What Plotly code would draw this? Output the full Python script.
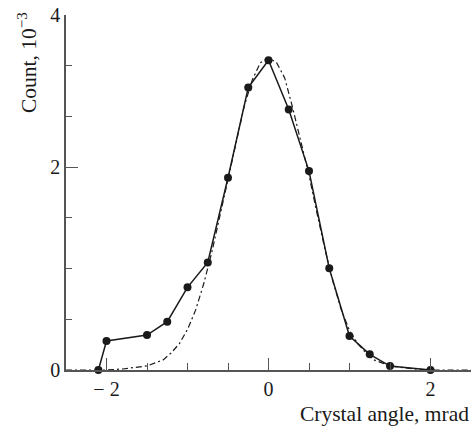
import plotly.graph_objects as go

# Measured data (solid line with markers), in units of the lower axis labels (0, 2)
angle = [-2.10, -2.0, -1.5, -1.25, -1.0, -0.75, -0.5, -0.25, 0.0, 0.25, 0.5, 0.75, 1.0, 1.25, 1.5, 2.0]
count = [0.0, 0.286, 0.345, 0.476, 0.815, 1.061, 1.895, 2.785, 3.054, 2.568, 1.961, 1.002, 0.335, 0.155, 0.039, 0.0]

# Fit curve (dash-dot)
fit_angle = [-2.5, -2.0, -1.8, -1.6, -1.5, -1.4, -1.3, -1.2, -1.1, -1.0, -0.9, -0.8, -0.7, -0.6, -0.5, -0.4, -0.3, -0.2, -0.1, 0.0, 0.1, 0.2, 0.3, 0.4, 0.5, 0.6, 0.7, 0.8, 0.9, 1.0, 1.1, 1.2, 1.3, 1.4, 1.5, 1.6, 1.8, 2.0, 2.5]
fit_count = [0.0, 0.0, 0.01, 0.03, 0.04, 0.07, 0.10, 0.17, 0.26, 0.40, 0.59, 0.85, 1.16, 1.52, 1.89, 2.26, 2.60, 2.86, 3.03, 3.08, 3.03, 2.88, 2.58, 2.25, 1.92, 1.54, 1.18, 0.86, 0.59, 0.39, 0.26, 0.17, 0.10, 0.07, 0.04, 0.03, 0.01, 0.0, 0.0]

x_tick_vals = [-2, 0, 2]
x_tick_text = ["\u2212 2", "0", "2"]
# the top label "4" sits at the top end of the axis in the original
y_tick_vals = [0, 2, 3.5]
y_tick_text = ["0", "2", "4"]

FONT = "Liberation Serif, Times New Roman, serif"
INK = "#1a1a1a"
AXC = "#555555"

fig = go.Figure()
fig.add_trace(go.Scatter(x=fit_angle, y=fit_count, mode="lines",
                         line=dict(color=INK, width=1.2, dash="6px,3px,2px,3px"),
                         showlegend=False, hoverinfo="skip"))
fig.add_trace(go.Scatter(x=angle, y=count, mode="lines+markers",
                         line=dict(color=INK, width=1.5),
                         marker=dict(color=INK, size=8),
                         showlegend=False, cliponaxis=False))
# invisible trace on overlay axis for the long tick at y=2
fig.add_trace(go.Scatter(x=[0], y=[0], yaxis="y2", mode="markers",
                         marker=dict(opacity=0), showlegend=False, hoverinfo="skip"))

fig.update_layout(
    width=475, height=430,
    margin=dict(l=66, r=3.5, t=15, b=60, autoexpand=False),
    paper_bgcolor="white", plot_bgcolor="white",
    font=dict(family=FONT, size=20, color=INK),
    xaxis=dict(range=[-2.5, 2.5], showgrid=False, zeroline=False,
               showline=True, linecolor=AXC, linewidth=1.5, automargin=False,
               tickmode="array", tickvals=x_tick_vals, ticktext=x_tick_text,
               ticks="inside", ticklen=12, tickwidth=1.2, tickcolor=AXC,
               minor=dict(dtick=0.5, tick0=0, ticks="inside", ticklen=7,
                          tickwidth=1.2, tickcolor=AXC, showgrid=False),
               tickfont=dict(size=20), ticklabeloverflow="allow"),
    yaxis=dict(range=[0, 3.5], showgrid=False, zeroline=False,
               showline=True, linecolor=AXC, linewidth=1.5, automargin=False,
               tickmode="array", tickvals=y_tick_vals, ticktext=y_tick_text,
               ticks="inside", ticklen=6, tickwidth=1.2, tickcolor=AXC,
               minor=dict(dtick=0.5, tick0=0, ticks="inside", ticklen=6,
                          tickwidth=1.2, tickcolor=AXC, showgrid=False),
               tickfont=dict(size=20), ticklabeloverflow="allow"),
    yaxis2=dict(range=[0, 3.5], overlaying="y", side="left", showgrid=False,
                zeroline=False, showline=False, automargin=False,
                tickmode="array", tickvals=[2],
                ticks="inside", ticklen=12, tickwidth=1.2, tickcolor=AXC,
                showticklabels=False),
    annotations=[
        dict(text="Count, 10<sup>\u22123</sup>", xref="paper", yref="paper",
             x=-0.095, y=1.014, xanchor="center", yanchor="top", textangle=-90,
             showarrow=False, font=dict(family=FONT, size=21.5, color=INK)),
        dict(text="Crystal angle, mrad", xref="paper", yref="paper",
             x=1.0, y=-0.085, xanchor="right", yanchor="top",
             showarrow=False, font=dict(family=FONT, size=21.5, color=INK)),
    ],
)

# remove the default page margin so the 475x430 figure fills the window exactly
fig.write_html("out.html", config={"displayModeBar": False},
               post_script="document.body.style.margin='0';document.body.style.overflow='hidden';")
